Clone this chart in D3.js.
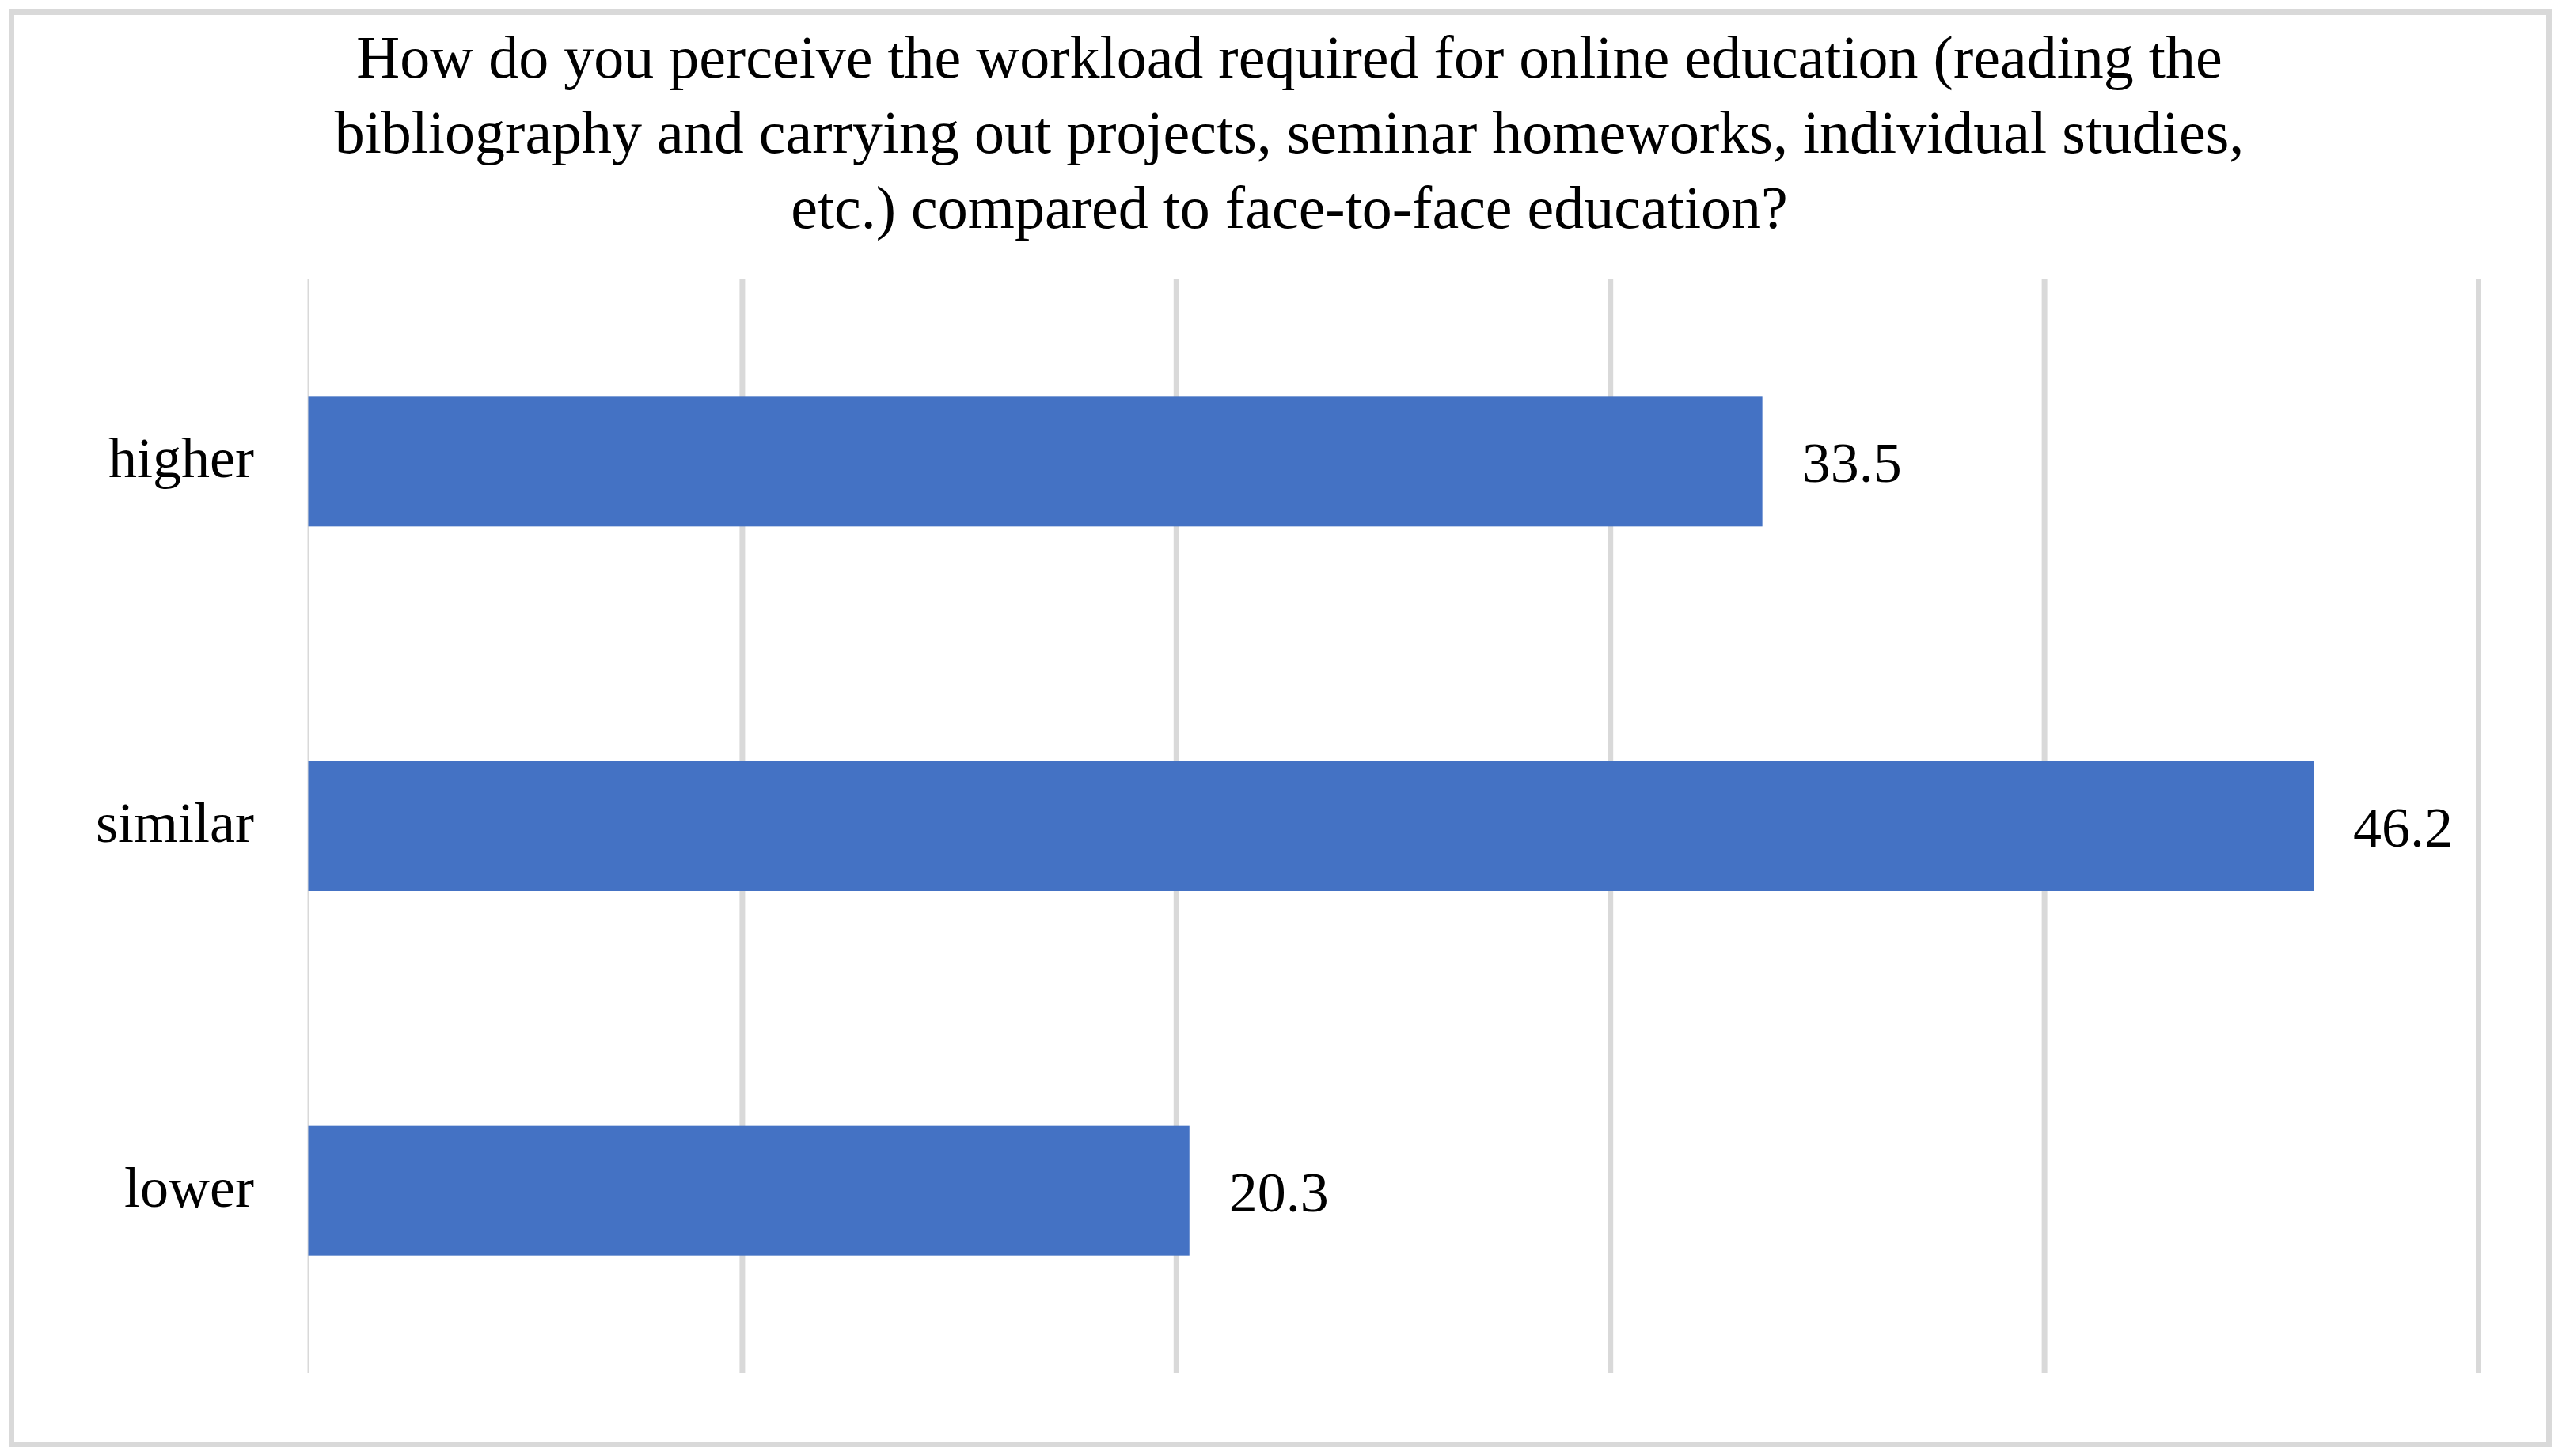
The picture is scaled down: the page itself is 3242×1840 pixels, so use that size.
<!DOCTYPE html>
<html>
<head>
<meta charset="utf-8">
<script src="https://cdn.jsdelivr.net/npm/d3@7"></script>
<style>
  html, body { margin: 0; padding: 0; background: #fff; }
  svg { display: block; }
</style>
</head>
<body>
<svg id="chart" width="3242" height="1840"></svg>
<script>
document.addEventListener("DOMContentLoaded", () => {
  "use strict";

  const categories = ["higher", "similar", "lower"];
  const values     = [33.5, 46.2, 20.3];
  const xTicks     = [0, 10, 20, 30, 40, 50];
  const titleLines = [
    "How do you perceive the workload required for online education (reading the",
    "bibliography and carrying out projects, seminar homeworks, individual studies,",
    "etc.) compared to face-to-face education?"
  ];

  const data = categories.map((c, i) => ({ cat: c, val: values[i] }));

  const svg = d3.select("#chart");
  const W = 3242, H = 1840;
  const FONT = "'Liberation Serif', 'Times New Roman', serif";

  svg.append("rect")
    .attr("width", W).attr("height", H)
    .attr("fill", "#fff");

  // outer chart frame
  svg.append("rect")
    .attr("x", 14.5).attr("y", 15.5)
    .attr("width", 3206).attr("height", 1810)
    .attr("fill", "none")
    .attr("stroke", "#d9d9d9")
    .attr("stroke-width", 7);

  // title
  svg.append("g").selectAll("text").data(titleLines).join("text")
    .attr("x", 1629)
    .attr("y", (d, i) => 98 + i * 95)
    .attr("text-anchor", "middle")
    .style("font-family", FONT)
    .style("font-size", "76px")
    .attr("fill", "#000")
    .text(d => d);

  const M = { top: 353, left: 389.5, right: 3131.5, bottom: 1735 };

  const x = d3.scaleLinear().domain([0, 50]).range([M.left, M.right]);
  const y = d3.scaleBand()
    .domain(categories)
    .range([M.top, M.bottom])
    .paddingInner(0.644)
    .paddingOuter(0.322);

  // vertical gridlines
  svg.append("g").selectAll("line.grid").data(xTicks.filter(t => t > 0)).join("line")
    .attr("class", "grid")
    .attr("x1", d => x(d)).attr("x2", d => x(d))
    .attr("y1", M.top).attr("y2", M.bottom)
    .attr("stroke", "#d9d9d9")
    .attr("stroke-width", 7);

  // category axis line
  svg.append("line")
    .attr("x1", x(0)).attr("x2", x(0))
    .attr("y1", M.top).attr("y2", M.bottom)
    .attr("stroke", "#d9d9d9")
    .attr("stroke-width", 2);

  // bars
  svg.append("g").selectAll("rect.bar").data(data).join("rect")
    .attr("class", "bar")
    .attr("x", x(0))
    .attr("y", d => y(d.cat))
    .attr("width", d => x(d.val) - x(0))
    .attr("height", y.bandwidth())
    .attr("fill", "#4472c4");

  // category labels
  svg.append("g").selectAll("text.cat").data(data).join("text")
    .attr("class", "cat")
    .attr("x", 321)
    .attr("y", d => y(d.cat) + y.bandwidth() / 2 + 20)
    .attr("text-anchor", "end")
    .style("font-family", FONT)
    .style("font-size", "72px")
    .attr("fill", "#000")
    .text(d => d.cat);

  // value labels
  svg.append("g").selectAll("text.val").data(data).join("text")
    .attr("class", "val")
    .attr("x", d => x(d.val) + 50)
    .attr("y", d => y(d.cat) + y.bandwidth() / 2 + 26)
    .style("font-family", FONT)
    .style("font-size", "72px")
    .attr("fill", "#000")
    .text(d => d3.format(".1f")(d.val));
});
</script>
</body>
</html>
